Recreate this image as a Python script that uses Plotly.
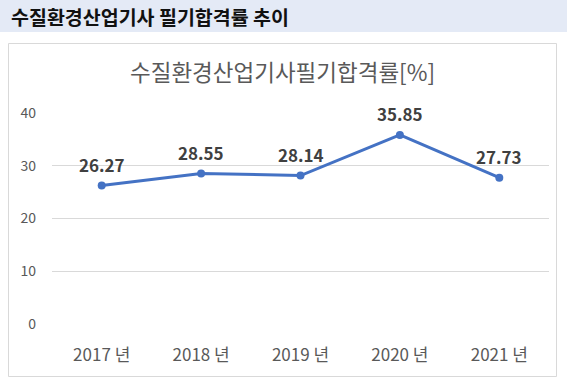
import plotly.graph_objects as go

years = ["2017 년", "2018 년", "2019 년", "2020 년", "2021 년"]
pass_rate = [26.27, 28.55, 28.14, 35.85, 27.73]
y_ticks = [0, 10, 20, 30, 40]
header_text = "수질환경산업기사 필기합격률 추이"
chart_title = "수질환경산업기사필기합격률[%]"

W, H = 567, 383
L, R, T, B = 52, 549, 113, 324
pw, ph = R - L, B - T

def px(x):
    return (x - L) / pw

def py(y):
    return (B - y) / ph

FONT = "Noto Sans CJK KR"

fig = go.Figure()
fig.add_trace(go.Scatter(
    x=years, y=pass_rate, mode="lines+markers",
    line=dict(color="#4472C4", width=3),
    marker=dict(color="#4472C4", size=8),
    cliponaxis=False,
    hoverinfo="skip",
))

shapes = [
    dict(type="rect", xref="paper", yref="paper", x0=px(0), x1=px(W), y0=py(0), y1=py(32),
         fillcolor="#E4EAF6", line=dict(width=0), layer="below"),
    dict(type="rect", xref="paper", yref="paper", x0=px(8.5), x1=px(556.5), y0=py(43.5), y1=py(376.5),
         fillcolor="rgba(0,0,0,0)", line=dict(color="#D9D9D9", width=1), layer="below"),
]

annotations = [
    dict(text=header_text, xref="paper", yref="paper", x=px(9), y=py(17),
         xanchor="left", yanchor="middle", showarrow=False,
         font=dict(family=FONT, size=19.5, color="#111111", weight="bold")),
    dict(text=chart_title, xref="paper", yref="paper", x=px(282), y=py(71),
         xanchor="center", yanchor="middle", showarrow=False,
         font=dict(family=FONT, size=22.5, color="#595959")),
]
for yr, v in zip(years, pass_rate):
    annotations.append(dict(
        text=f"{v:.2f}", x=yr, y=v, xref="x", yref="y",
        xanchor="center", yanchor="middle", yshift=21, showarrow=False,
        font=dict(family=FONT, size=17, color="#404040", weight="bold")))

fig.update_layout(
    width=W, height=H,
    margin=dict(l=L, r=W - R, t=T, b=H - B, pad=0),
    paper_bgcolor="white", plot_bgcolor="white",
    showlegend=False,
    shapes=shapes, annotations=annotations,
    xaxis=dict(range=[-0.5, 4.5], showgrid=False, showline=False, zeroline=False, ticks="",
               tickfont=dict(family=FONT, size=17, color="#595959"),
               ticklabelstandoff=19),
    yaxis=dict(range=[0, 40], tickvals=y_ticks, showgrid=True, gridcolor="#D9D9D9",
               gridwidth=1, zeroline=False, showline=False, ticks="",
               tickfont=dict(family=FONT, size=14, color="#595959"),
               ticklabelstandoff=15),
)

fig.write_html("out.html", config={"displayModeBar": False},
               post_script="document.body.style.margin='0';document.body.style.overflow='hidden';")
